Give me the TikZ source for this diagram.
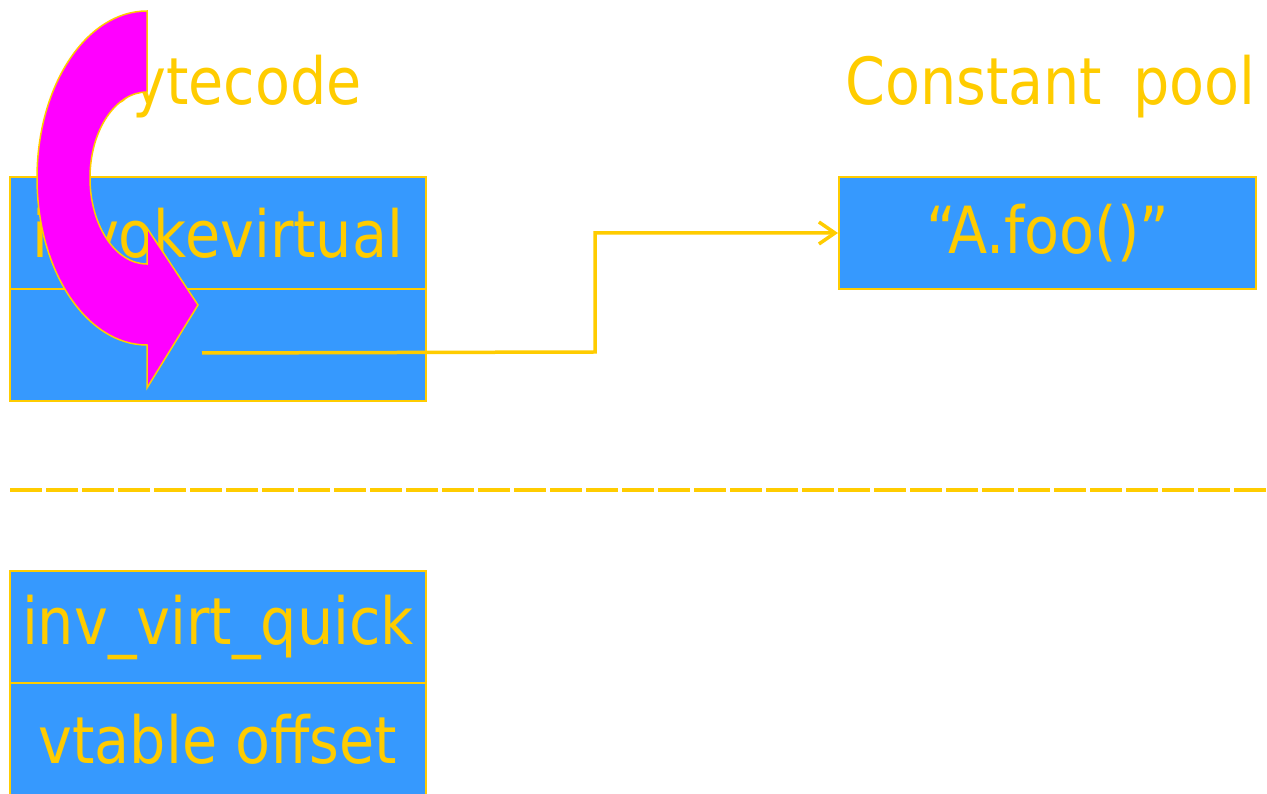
\documentclass[tikz,border=0pt]{standalone}
\usepackage{fontspec}
\setmainfont{DejaVu Sans}[FakeStretch=0.88]
\usetikzlibrary{arrows.meta}
\definecolor{cellblue}{HTML}{3699FE}
\definecolor{gold}{HTML}{FFCC00}
\definecolor{mag}{HTML}{FF00FF}
\tikzset{
  cell/.style={draw=gold, line width=2pt, fill=cellblue, minimum width=416pt, minimum height=112pt, inner sep=0pt, text=gold, font=\fontsize{65}{65}\selectfont},
  title/.style={text=gold, inner sep=0pt, font=\fontsize{65}{65}\selectfont},
  conn/.style={draw=gold, line width=3.5pt, -{Straight Barb[length=16pt,width=22pt,line width=3.5pt]}},
}
\begin{document}
\begin{tikzpicture}[x=1pt,y=1pt]
\useasboundingbox (0,0) rectangle (1267,793);
\node[title, anchor=base east] (bt) at (362,688) {Bytecode};
\node[title, anchor=base west] (cpt) at (845,688) {Constant\hspace{31pt}pool};
\node[cell] (bc1) at (218,560) {invokevirtual};
\node[cell] (bc2) at (218,448) {};
\node[cell, minimum width=417pt] (cp) at (1047.5,560) {“A.foo()”};
\node[cell] (q1) at (218,166) {inv\_virt\_quick};
\node[cell] (q2) at (218,54) {vtable offset};
\draw[gold, line width=4.5pt, dash pattern=on 32pt off 4pt] (10,303) -- (1267,303);
\filldraw[fill=mag, draw=gold, line width=1.5pt]
  (147,782) arc[start angle=90, end angle=270, x radius=110, y radius=167]
  -- (147,405) -- (198,488) -- (147,565) -- (147,529)
  arc[start angle=270, end angle=90, x radius=57, y radius=86] -- cycle;
\coordinate (s) at (202,440);
\draw[conn] (s) -- (595,441) |- (cp.west);
\end{tikzpicture}
\end{document}
